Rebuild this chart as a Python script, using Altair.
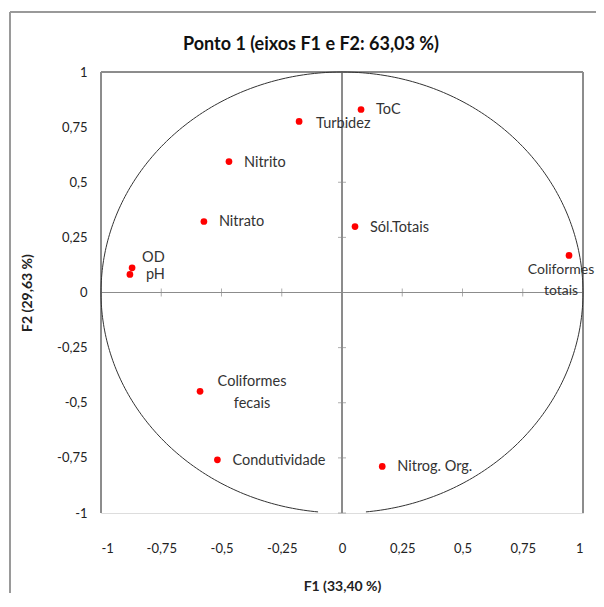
import altair as alt
import numpy as np
import pandas as pd

labels = ["ToC", "Turbidez", "Nitrito", "Nitrato", "Sól.Totais", "OD", "pH",
          "Coliformes\ntotais", "Coliformes\nfecais", "Condutividade", "Nitrog. Org."]
f1 = [0.079, -0.178, -0.469, -0.573, 0.054, -0.871, -0.880, 0.942, -0.589, -0.517, 0.167]
f2 = [0.830, 0.776, 0.594, 0.322, 0.299, 0.112, 0.082, 0.168, -0.448, -0.759, -0.789]
tick_values = [-1, -0.75, -0.5, -0.25, 0, 0.25, 0.5, 0.75, 1]

title = "Ponto 1 (eixos F1 e F2: 63,03 %)"
x_title = "F1 (33,40 %)"
y_title = "F2 (29,63 %)"

FONT = "Lato"
GRAY = "#8c8c8c"

pts = pd.DataFrame({"label": labels, "f1": f1, "f2": f2})
ticks = pd.DataFrame({"v": tick_values})
one = pd.DataFrame({"t": [title]})

# correlation circle (with the small gap at the bottom as in the original)
ang = np.linspace(np.deg2rad(-84.3), np.deg2rad(264.3), 400)
circ = pd.DataFrame({"cx": np.cos(ang), "cy": np.sin(ang), "o": np.arange(len(ang))})

xs = alt.Scale(domain=[-1, 1], nice=False, zero=False)
ys = alt.Scale(domain=[-1, 1], nice=False, zero=False)
lab_expr = "replace(toString(datum.value), '.', ',')"

xaxis = alt.Axis(values=tick_values, labelExpr=lab_expr, domain=False, ticks=False,
                 grid=False, labelPadding=29, labelFontSize=13, labelFont=FONT,
                 labelColor="#222", title=x_title, titleFont=FONT, titleFontSize=14,
                 titleFontWeight="bold", titlePadding=24, titleColor="#222")
yaxis = alt.Axis(values=tick_values, labelExpr=lab_expr, domain=False, ticks=False,
                 grid=False, labelPadding=14, labelFontSize=13, labelFont=FONT,
                 labelColor="#222", title=y_title, titleFont=FONT, titleFontSize=14,
                 titleFontWeight="bold", titlePadding=22, titleColor="#222")

base_axes = alt.Chart(ticks).mark_point(opacity=0).encode(
    x=alt.X("v:Q", scale=xs, axis=xaxis),
    y=alt.Y("v:Q", scale=ys, axis=yaxis),
)

# outer frame
frame = alt.Chart(ticks).mark_rect(fill=None, stroke="#999", strokeWidth=1, clip=False).encode(
    x=alt.value(-91), x2=alt.value(530), y=alt.value(-60), y2=alt.value(560)
)

# chart title
title_mark = alt.Chart(one).mark_text(font=FONT, fontSize=18, fontWeight="bold",
                                      color="#111", align="center", baseline="middle").encode(
    x=alt.value(210), y=alt.value(-27), text="t:N")

# plot border: top, left, right
b_top = alt.Chart(ticks).mark_rule(color=GRAY, strokeWidth=1).encode(
    x=alt.value(0), x2=alt.value(482), y=alt.value(0))
b_left = alt.Chart(ticks).mark_rule(color=GRAY, strokeWidth=1).encode(
    x=alt.value(0), y=alt.value(0), y2=alt.value(441))
b_right = alt.Chart(ticks).mark_rule(color=GRAY, strokeWidth=1).encode(
    x=alt.value(482), y=alt.value(0), y2=alt.value(441))

# zero axes
zx = alt.Chart(ticks).mark_rule(color=GRAY, strokeWidth=1.2).encode(
    x=alt.value(0), x2=alt.value(482), y=alt.Y("zero:Q", scale=ys)
).transform_calculate(zero="0")
zy = alt.Chart(ticks).mark_rule(color=GRAY, strokeWidth=1.2).encode(
    y=alt.value(0), y2=alt.value(441), x=alt.X("zero:Q", scale=xs)
).transform_calculate(zero="0")

xt = alt.Chart(ticks).mark_tick(color=GRAY, size=8, thickness=1, orient="vertical").encode(
    x=alt.X("v:Q", scale=xs), y=alt.Y("zero:Q", scale=ys)
).transform_calculate(zero="0")
yt = alt.Chart(ticks).mark_tick(color=GRAY, size=8, thickness=1, orient="horizontal").encode(
    y=alt.Y("v:Q", scale=ys), x=alt.X("zero:Q", scale=xs)
).transform_calculate(zero="0")

circle = alt.Chart(circ).mark_line(color="#333", strokeWidth=1).encode(
    x=alt.X("cx:Q", scale=xs), y=alt.Y("cy:Q", scale=ys), order="o:Q"
)

points = alt.Chart(pts).mark_circle(color="#ff0000", opacity=1, size=45).encode(
    x=alt.X("f1:Q", scale=xs), y=alt.Y("f2:Q", scale=ys)
)

def txt(filter_names, **kw):
    opts = dict(font=FONT, fontSize=14.5, color="#333", lineBreak="\n")
    opts.update(kw)
    return alt.Chart(pts).transform_filter(
        alt.FieldOneOfPredicate(field="label", oneOf=filter_names)
    ).mark_text(**opts).encode(
        x=alt.X("f1:Q", scale=xs), y=alt.Y("f2:Q", scale=ys), text="label:N"
    )

right_lbls = txt(["ToC", "Nitrito", "Nitrato", "Sól.Totais", "Condutividade", "Nitrog. Org."],
                 align="left", baseline="middle", dx=15, dy=1)
turb = txt(["Turbidez"], align="left", baseline="middle", dx=17, dy=3)
od = txt(["OD"], align="left", baseline="middle", dx=10, dy=-10)
ph = txt(["pH"], align="left", baseline="middle", dx=16, dy=1)
ctot = txt(["Coliformes\ntotais"], align="center", baseline="middle", dx=-8, dy=15,
           lineHeight=21, fontSize=14)
cfec = txt(["Coliformes\nfecais"], align="center", baseline="middle", dx=52, dy=-9, lineHeight=22)

chart = alt.layer(
    frame, title_mark, base_axes, b_top, b_left, b_right, zx, zy, xt, yt, circle, points,
    right_lbls, turb, od, ph, ctot, cfec
).properties(
    width=482, height=441,
    autosize=alt.AutoSizeParams(type="none"),
    padding={"left": 93, "top": 64, "right": 13, "bottom": 80},
).configure_view(stroke=None).configure(background="white")

chart.save("out.html", embed_options={"renderer": "svg", "actions": False})
